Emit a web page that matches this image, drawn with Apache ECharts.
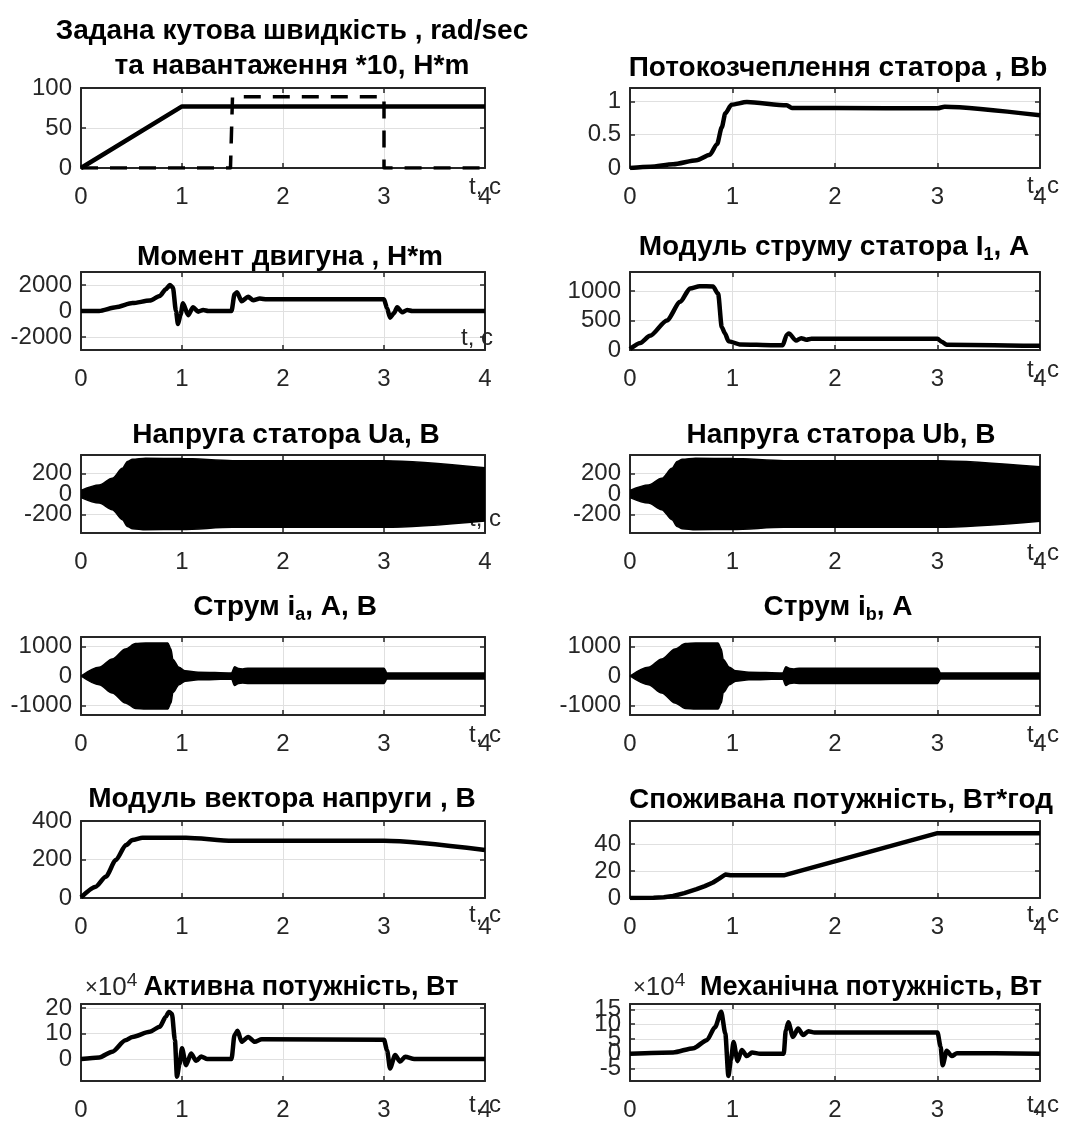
<!DOCTYPE html>
<html>
<head>
<meta charset="utf-8">
<script src="https://cdn.jsdelivr.net/npm/echarts@6/dist/echarts.min.js"></script>
<style>
  html, body { margin: 0; padding: 0; background: #fff; }
  #main { width: 1074px; height: 1122px; }
</style>
</head>
<body>
<div id="main"></div>
<script>
// time ticks, s
var xTicks = [0, 1, 2, 3, 4];

// speed reference, rad/s, and load torque *10
var speedT = [0, 1, 4];
var speedV = [0, 77, 77];
var loadT = [0, 1.48, 1.5, 3.0, 3.0, 4];
var loadV = [0, 0, 89, 89, 0, 0];

// stator flux linkage
var fluxT = [0, 0.2, 0.42, 0.65, 0.78, 0.85, 0.895, 0.93, 0.99, 1.14, 1.53, 1.58, 2.0, 3.0, 3.07, 4.0];
var fluxV = [0, 0.02, 0.056, 0.117, 0.2, 0.36, 0.61, 0.82, 0.95, 0.99, 0.94, 0.9, 0.9, 0.895, 0.92, 0.79];

// motor torque
var torqueT = [0, 0.18, 0.345, 0.51, 0.68, 0.78, 0.84, 0.88, 0.91, 0.94, 0.96, 0.985, 1.01, 1.06, 1.11, 1.16, 1.21, 1.26, 1.49, 1.52, 1.545, 1.59, 1.655, 1.705, 1.77, 1.84, 3.0, 3.03, 3.06, 3.1, 3.13, 3.18, 3.23, 3.28, 4.0];
var torqueV = [0, 0, 290, 610, 800, 1150, 1680, 2000, 1800, 0, -1000, -300, 600, -320, 290, -50, 80, 0, 0, 1280, 1450, 750, 1090, 830, 960, 900, 900, 210, -510, -150, 290, -100, 80, 0, 0];

// stator current modulus
var i1T = [0, 0.1, 0.195, 0.36, 0.49, 0.585, 0.68, 0.81, 0.86, 0.895, 0.927, 0.96, 1.07, 1.4, 1.49, 1.53, 1.55, 1.62, 1.67, 1.72, 1.77, 3.0, 3.04, 3.09, 4.0];
var i1V = [15, 120, 240, 500, 815, 1040, 1080, 1075, 950, 390, 280, 150, 95, 80, 80, 260, 280, 160, 200, 175, 190, 190, 140, 90, 70];

// stator voltage Ua envelope
var uaT = [0, 0.18, 0.31, 0.41, 0.46, 0.51, 0.64, 1.0, 1.5, 3.0, 4.0];
var uaUp = [35, 88, 153, 250, 316, 338, 348, 345, 325, 325, 255];
var uaLo = [-35, -88, -153, -250, -316, -338, -348, -345, -325, -325, -262];

// stator voltage Ub envelope
var ubT = [0, 0.18, 0.31, 0.41, 0.46, 0.51, 0.64, 1.0, 1.5, 3.0, 4.0];
var ubUp = [35, 88, 153, 250, 316, 338, 348, 345, 325, 325, 265];
var ubLo = [-35, -88, -153, -250, -316, -338, -348, -345, -325, -325, -265];

// phase current ia envelope
var iaT = [0, 0.18, 0.31, 0.44, 0.54, 0.64, 0.86, 0.89, 0.91, 0.97, 1.03, 1.16, 1.49, 1.52, 1.56, 1.6, 1.65, 3.0, 3.03, 4.0];
var iaUp = [0, 295, 576, 915, 1100, 1120, 1120, 915, 560, 295, 180, 130, 100, 310, 250, 240, 260, 260, 100, 100];
var iaLo = [0, -295, -576, -915, -1100, -1120, -1120, -915, -560, -295, -180, -130, -100, -320, -250, -240, -250, -250, -100, -100];

// phase current ib envelope
var ibT = [0, 0.18, 0.31, 0.44, 0.54, 0.64, 0.86, 0.89, 0.91, 0.97, 1.03, 1.16, 1.49, 1.52, 1.56, 1.6, 1.65, 3.0, 3.03, 4.0];
var ibUp = [0, 295, 576, 915, 1100, 1120, 1120, 915, 560, 295, 180, 130, 100, 310, 250, 240, 260, 260, 100, 100];
var ibLo = [0, -295, -576, -915, -1100, -1120, -1120, -915, -560, -295, -180, -130, -100, -320, -250, -240, -250, -250, -100, -100];

// voltage vector modulus
var umT = [0, 0.146, 0.245, 0.345, 0.445, 0.51, 0.61, 1.04, 1.5, 3.0, 4.0];
var umV = [3, 59, 110, 197, 275, 301, 313, 313, 297, 297, 249];

// consumed energy, W*h
var energyT = [0, 0.23, 0.33, 0.42, 0.53, 0.65, 0.73, 0.81, 0.87, 0.93, 0.98, 1.5, 3.0, 4.0];
var energyV = [0, 0.1, 0.6, 1.5, 3.6, 6.5, 8.8, 11.5, 14.3, 17.4, 16.8, 16.8, 48, 48];

// active power, x10^4 W
var pActT = [0, 0.18, 0.31, 0.44, 0.51, 0.68, 0.78, 0.84, 0.87, 0.9, 0.93, 0.95, 0.975, 1.0, 1.04, 1.09, 1.14, 1.19, 1.25, 1.49, 1.52, 1.55, 1.59, 1.655, 1.72, 1.79, 3.0, 3.03, 3.06, 3.11, 3.16, 3.21, 3.3, 4.0];
var pActV = [0, 0.65, 2.9, 7.4, 8.7, 10.7, 12.7, 16.6, 18.5, 17.8, 7.4, -6.9, -2, 4.2, -2.4, 2.2, -0.7, 1.0, 0, 0, 9.4, 11.1, 6.8, 8.7, 6.8, 7.8, 7.6, 3.5, -3.7, 1.6, -1.0, 0.9, 0, 0];

// mechanical power, x10^4 W
var pMechT = [0, 0.42, 0.62, 0.75, 0.83, 0.89, 0.93, 0.96, 0.985, 1.01, 1.05, 1.09, 1.14, 1.19, 1.27, 1.5, 1.52, 1.545, 1.59, 1.64, 1.69, 1.74, 1.8, 3.0, 3.03, 3.05, 3.09, 3.14, 3.19, 4.0];
var pMechV = [0, 0.44, 1.9, 4.6, 9, 14.2, 6.8, -7.5, -2, 4.0, -2.5, 1.3, -0.8, 0.4, 0, 0, 7.9, 10.6, 5.7, 8.5, 6.3, 7.6, 7.2, 7.2, 2.4, -3.9, 1.0, -0.8, 0.2, 0];

var FONT = '"Liberation Sans", Arial, sans-serif';
var AX = '#262626';
var TICK_FS = 24;

var COLS = [{left: 81, width: 404}, {left: 630, width: 410}];
var ROWS = [
  {top: 88, height: 80}, {top: 272, height: 78}, {top: 455, height: 78},
  {top: 637, height: 78}, {top: 821, height: 77}, {top: 1004, height: 77}
];

// labB: tick labels drawn by a second, overlaid axis so crowded labels all stay visible
var panels = [
  {col: 0, row: 0, title: 'Задана кутова швидкість , rad/sec\nта навантаження *10, H*m', tx: 287, ty: 9, lh: 35,
    yMin: 0, yMax: 100, yTicks: [0, 50, 100], nGap: 0, nDy: 7,
    lines: [[speedT, speedV, 'solid', 0], [loadT, loadV, 'dash', 0]]},
  {col: 1, row: 0, title: 'Потокозчеплення статора , Bb', tx: 833, ty: 47,
    yMin: 0, yMax: 1.2, yTicks: [0, 0.5, 1], nGap: 3, nDy: 6,
    lines: [[fluxT, fluxV, 'solid', 0.25]]},
  {col: 0, row: 1, title: 'Момент двигуна , H*m', tx: 285, ty: 236,
    yMin: -3000, yMax: 3000, yTicks: [-2000, 0, 2000], nGap: -8, nDy: 0, inside: true,
    lines: [[torqueT, torqueV, 'solid', 0.25]]},
  {col: 1, row: 1, title: 'Модуль струму статора I{sub|1}, A', tx: 829, ty: 226,
    yMin: 0, yMax: 1320, yTicks: [0, 500, 1000], nGap: 3, nDy: 8,
    lines: [[i1T, i1V, 'solid', 0.25]]},
  {col: 0, row: 2, title: 'Напруга статора Ua, В', tx: 281, ty: 414,
    yMin: -380, yMax: 380, yTicks: [-200, 0, 200], labA: [-200, 200], labB: [0], nGap: 0, nDy: 2, inside: true,
    band: [uaT, uaUp, uaLo]},
  {col: 1, row: 2, title: 'Напруга статора Ub, В', tx: 836, ty: 414,
    yMin: -380, yMax: 380, yTicks: [-200, 0, 200], labA: [-200, 200], labB: [0], nGap: 3, nDy: 8,
    band: [ubT, ubUp, ubLo]},
  {col: 0, row: 3, title: 'Струм i{sub|a}, A, В', tx: 280, ty: 586,
    yMin: -1320, yMax: 1320, yTicks: [-1000, 0, 1000], nGap: 0, nDy: 8,
    band: [iaT, iaUp, iaLo]},
  {col: 1, row: 3, title: 'Струм i{sub|b}, A', tx: 833, ty: 586,
    yMin: -1320, yMax: 1320, yTicks: [-1000, 0, 1000], nGap: 3, nDy: 8,
    band: [ibT, ibUp, ibLo]},
  {col: 0, row: 4, title: 'Модуль вектора напруги , В', tx: 277, ty: 778,
    yMin: 0, yMax: 400, yTicks: [0, 200, 400], nGap: 0, nDy: 5,
    lines: [[umT, umV, 'solid', 0.25]]},
  {col: 1, row: 4, title: 'Споживана потужність, Вт*год', tx: 836, ty: 779,
    yMin: 0, yMax: 57, yTicks: [0, 20, 40], nGap: 3, nDy: 5,
    lines: [[energyT, energyV, 'solid', 0]]},
  {col: 0, row: 5, title: 'Активна потужність, Вт', tx: 296, ty: 967, fs: 27, exp: 80,
    yMin: -8.6, yMax: 21.6, yTicks: [0, 10, 20], nGap: 0, nDy: 12,
    lines: [[pActT, pActV, 'solid', 0.25]]},
  {col: 1, row: 5, title: 'Механічна потужність, Вт', tx: 866, ty: 967, fs: 27, exp: 628,
    yMin: -9.2, yMax: 16.8, yTicks: [-5, 0, 5, 10, 15], labA: [-5, 5, 15], labB: [0, 10], nGap: 3, nDy: 12,
    lines: [[pMechT, pMechV, 'solid', 0.25]]}
];

function zip(t, v) {
  return t.map(function (x, i) { return [x, v[i]]; });
}

function plainNum(v) { return String(v); }

var option = {
  animation: false,
  backgroundColor: '#ffffff',
  title: [], grid: [], xAxis: [], yAxis: [], series: []
};

panels.forEach(function (p, k) {
  var col = COLS[p.col], row = ROWS[p.row];
  option.grid.push({left: col.left, width: col.width, top: row.top, height: row.height, containLabel: false});

  option.title.push({
    text: p.title, left: p.tx, top: p.ty, textAlign: 'center',
    textStyle: {
      fontFamily: FONT, fontWeight: 'bold', fontSize: p.fs || 28, color: '#000', lineHeight: p.lh || 32,
      rich: {sub: {fontFamily: FONT, fontWeight: 'bold', fontSize: 18, color: '#000', lineHeight: 20, padding: [16, 0, 0, 0]}}
    }
  });

  // axis exponent label, x10^4
  if (p.exp) {
    option.title.push({
      text: '{m|×}{b|10}{s|4}', left: p.exp, top: 968,
      textStyle: {
        fontFamily: FONT, fontWeight: 'normal', fontSize: 25, color: AX, lineHeight: 30,
        rich: {
          m: {fontFamily: FONT, fontWeight: 'normal', fontSize: 22, color: AX},
          b: {fontFamily: FONT, fontWeight: 'normal', fontSize: 26, color: AX},
          s: {fontFamily: FONT, fontWeight: 'normal', fontSize: 19, color: AX, padding: [0, 0, 14, 0]}
        }
      }
    });
  }

  var nameStyle = {
    fontFamily: FONT, fontSize: TICK_FS, color: AX, align: 'center',
    verticalAlign: p.inside ? 'bottom' : 'top',
    padding: p.inside ? [0, 0, p.nDy, 0] : [p.nDy, 0, 0, 0]
  };

  var tickStyle = {show: true, inside: true, length: 5, lineStyle: {color: AX, width: 1.5}};
  var lineSt = {show: true, onZero: false, lineStyle: {color: AX, width: 2}};
  var labelBase = {margin: 9, fontFamily: FONT, fontSize: TICK_FS, color: AX, hideOverlap: false, formatter: plainNum};

  option.xAxis.push({
    type: 'value', gridIndex: k, position: 'bottom', min: 0, max: 4, interval: 1,
    name: 't, c', nameLocation: 'end', nameGap: p.nGap, nameTextStyle: nameStyle, nameMoveOverlap: false,
    axisLine: lineSt, axisTick: tickStyle,
    axisLabel: {show: true, margin: 17, fontFamily: FONT, fontSize: TICK_FS, color: AX, hideOverlap: false,
      showMinLabel: true, showMaxLabel: true, formatter: plainNum},
    splitLine: {show: true, lineStyle: {color: '#e0e0e0', width: 1}}
  });
  option.xAxis.push({
    type: 'value', gridIndex: k, position: 'top', min: 0, max: 4, interval: 1,
    axisLine: lineSt, axisTick: tickStyle, axisLabel: {show: false}, splitLine: {show: false}
  });

  // 3k: left axis with box line, ticks, grid lines; 3k+1: right box side; 3k+2: extra labels
  option.yAxis.push({
    type: 'value', gridIndex: k, position: 'left', min: p.yMin, max: p.yMax,
    axisLine: lineSt,
    axisTick: Object.assign({customValues: p.yTicks}, tickStyle),
    axisLabel: Object.assign({show: true, customValues: p.labA || p.yTicks}, labelBase),
    splitLine: {show: true, lineStyle: {color: '#e0e0e0', width: 1}}
  });
  option.yAxis.push({
    type: 'value', gridIndex: k, position: 'right', min: p.yMin, max: p.yMax,
    axisLine: lineSt,
    axisTick: Object.assign({customValues: p.yTicks}, tickStyle),
    axisLabel: {show: false}, splitLine: {show: false}
  });
  option.yAxis.push({
    type: 'value', gridIndex: k, position: 'left', offset: 0, min: p.yMin, max: p.yMax,
    axisLine: {show: false}, axisTick: {show: false}, splitLine: {show: false},
    axisLabel: Object.assign({show: !!p.labB, customValues: p.labB || p.yTicks}, labelBase)
  });

  if (p.lines) {
    p.lines.forEach(function (l) {
      var dashed = l[2] === 'dash';
      option.series.push({
        type: 'line', xAxisIndex: 2 * k, yAxisIndex: 3 * k, data: zip(l[0], l[1]),
        showSymbol: false, smooth: l[3] || false, smoothMonotone: 'x',
        lineStyle: {color: '#000', width: dashed ? 3.5 : 4.5, type: dashed ? [17, 12] : 'solid', cap: 'butt', join: 'round'},
        z: 3
      });
    });
  }
  if (p.band) {
    [p.band[1], p.band[2]].forEach(function (v) {
      option.series.push({
        type: 'line', xAxisIndex: 2 * k, yAxisIndex: 3 * k, data: zip(p.band[0], v),
        showSymbol: false, smooth: 0.3, smoothMonotone: 'x',
        lineStyle: {color: '#000', width: 1.5},
        areaStyle: {color: '#000', opacity: 1},
        z: 3
      });
    });
  }
});

var chart = echarts.init(document.getElementById('main'), null, {renderer: 'canvas'});
chart.setOption(option);
</script>
</body>
</html>
